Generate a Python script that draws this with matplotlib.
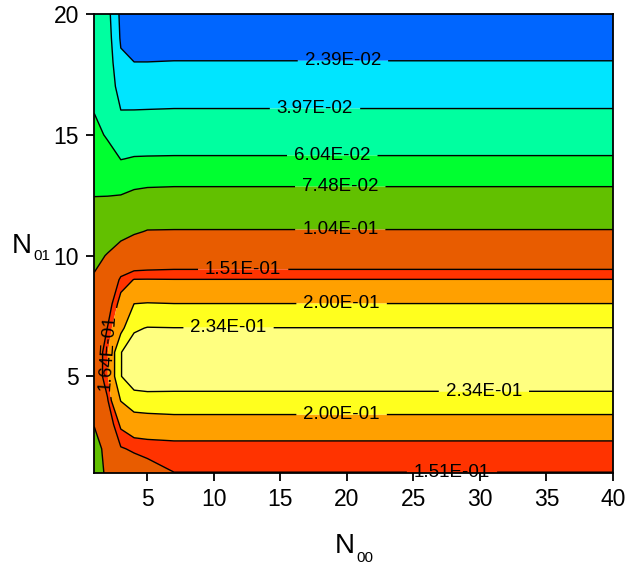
import numpy as np
import matplotlib.pyplot as plt

plt.rcParams['font.family'] = ['Liberation Sans', 'DejaVu Sans']

# grid: N00 along x, N01 along y (rows N01 = 1..20)
n00 = [1, 2, 3, 4, 5, 7, 40]
n01 = list(range(1, 21))

# value of each grid column, bottom row first
col_n00_1 = [0.080, 0.077, 0.1063, 0.125, 0.132, 0.132, 0.127, 0.118, 0.1079, 0.095,
             0.085, 0.0766, 0.0725, 0.0700, 0.0677, 0.0595, 0.057, 0.055, 0.052, 0.050]
col_n00_2 = [0.113, 0.125, 0.137, 0.149, 0.1625, 0.162, 0.1515, 0.140, 0.125, 0.106,
             0.086, 0.0759, 0.0735, 0.0707, 0.0575, 0.054, 0.051, 0.049, 0.047, 0.0448]
col_n00_3 = [0.128, 0.1495, 0.1672, 0.201, 0.233, 0.233, 0.190, 0.172, 0.155, 0.124,
             0.0907, 0.077, 0.0727, 0.0600, 0.050, 0.0399, 0.032, 0.0265, 0.0221, 0.0205]
col_n00_4 = [0.140, 0.1533, 0.1766, 0.2216, 0.2504, 0.250, 0.230, 0.2002, 0.1647, 0.1277,
             0.1005, 0.083, 0.0718, 0.0615, 0.0505, 0.0399, 0.0332, 0.0240, 0.018, 0.013]
col_n00_5 = [0.145, 0.155, 0.178, 0.2248, 0.2497, 0.253, 0.2352, 0.2017, 0.1648, 0.1303,
             0.1053, 0.0833, 0.0729, 0.0617, 0.0509, 0.0401, 0.0321, 0.0240, 0.018, 0.013]
col_n00_7 = [0.1509, 0.1538, 0.1848, 0.221, 0.255, 0.258, 0.2345, 0.2005, 0.1645, 0.133,
             0.1056, 0.0847, 0.0731, 0.0619, 0.0511, 0.0404, 0.0323, 0.0243, 0.018, 0.013]
col_n00_40 = [0.1509, 0.1538, 0.1848, 0.221, 0.255, 0.258, 0.2345, 0.2005, 0.1645, 0.133,
              0.1056, 0.0847, 0.0731, 0.0619, 0.0511, 0.0404, 0.0323, 0.0243, 0.018, 0.013]

levels = [0.0239, 0.0397, 0.0604, 0.0748, 0.104, 0.151, 0.164, 0.200, 0.234]
band_colors = ['#0066FF', '#00E5FF', '#00FFA0', '#00FF30', '#62C000',
               '#E85C00', '#FF3300', '#FFA000', '#FFFF1E', '#FFFF80']

# label anchor points (N00, N01), each placed on its own contour line
label_spots = [
    (19.7, 18.05),
    (17.6, 16.07),
    (18.9, 14.12),
    (19.5, 12.85),
    (19.5, 11.08),
    (12.2, 9.43),
    (2.03, 6.0),
    (19.6, 8.02),
    (11.1, 7.01),
    (30.3, 4.38),
    (19.6, 3.44),
    (27.9, 1.02),
]

Z = np.column_stack([col_n00_1, col_n00_2, col_n00_3, col_n00_4,
                     col_n00_5, col_n00_7, col_n00_40])
X, Y = np.meshgrid(n00, n01)

fig = plt.figure(figsize=(6.28, 5.69), dpi=100)
ax = fig.add_axes([0.150, 0.1687, 0.826, 0.8067])

fill_levels = [0.0] + levels + [0.3]
ax.contourf(X, Y, Z, levels=fill_levels, colors=band_colors, antialiased=True)
cs = ax.contour(X, Y, Z, levels=levels, colors='black', linewidths=1.0)

ax.clabel(cs, manual=label_spots, fmt='%.2E', fontsize=13.5,
          inline=True, inline_spacing=7)
for t in ax.texts:
    t.set_clip_on(False)

ax.set_xlim(1, 40)
ax.set_ylim(1, 20)
ax.set_xticks([5, 10, 15, 20, 25, 30, 35, 40])
ax.set_yticks([5, 10, 15, 20])
ax.tick_params(direction='out', length=6, width=1.3, labelsize=16.5, pad=5)
for sp in ax.spines.values():
    sp.set_linewidth(1.3)

# axis titles with small subscripts
W, H = 628.0, 569.0
fig.text(335 / W, 1 - 553 / H, 'N', fontsize=20, ha='left', va='baseline')
fig.text(356 / W, 1 - 562 / H, '00', fontsize=11, ha='left', va='baseline')
fig.text(12 / W, 1 - 253 / H, 'N', fontsize=20, ha='left', va='baseline')
fig.text(33 / W, 1 - 260 / H, '01', fontsize=11, ha='left', va='baseline')

fig.savefig('out.png', dpi=100)
